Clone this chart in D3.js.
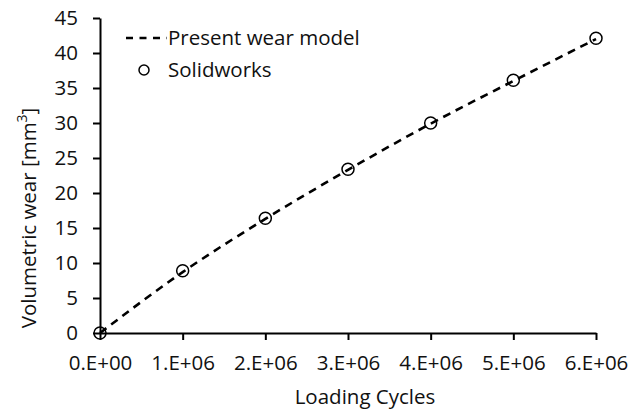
<!DOCTYPE html>
<html>
<head>
<meta charset="utf-8">
<script src="https://cdn.jsdelivr.net/npm/d3@7"></script>
<style>
  body { margin: 0; background: #fff; }
  text { font-family: "Open Sans", Lato, sans-serif; fill: #111; }
</style>
</head>
<body>
<div id="chart"></div>
<script>
// loading cycles and wear values
const cycles = [0, 1e6, 2e6, 3e6, 4e6, 5e6, 6e6];
const modelWear = [0, 8.7, 16.3, 23.3, 29.9, 36.0, 42.0];
const solidworksWear = [0, 8.9, 16.4, 23.4, 30.0, 36.1, 42.1];
const xTicks = [0, 1e6, 2e6, 3e6, 4e6, 5e6, 6e6];
const yTicks = [0, 5, 10, 15, 20, 25, 30, 35, 40, 45];
const legendLabels = ["Present wear model", "Solidworks"];

const W = 641, H = 414;
const margin = { top: 18, right: 45, bottom: 81, left: 100 };
const fontSize = 20.5;

const svg = d3.select('#chart').append('svg')
    .attr('width', W)
    .attr('height', H);

const xScale = d3.scaleLinear()
    .domain([0, 6e6])
    .range([margin.left, W - margin.right]);

const yScale = d3.scaleLinear()
    .domain([0, 45])
    .range([H - margin.bottom, margin.top]);

// excel style "1.E+06"
const sciFmt = d => {
    if (d === 0) return '0.E+00';
    const e = Math.floor(Math.log10(d));
    const m = Math.round(d / Math.pow(10, e));
    return m + '.E+' + String(e).padStart(2, '0');
};

const xAxis = svg.append('g')
    .attr('transform', `translate(0, ${yScale(0)})`)
    .call(d3.axisBottom(xScale).tickValues(xTicks).tickFormat(sciFmt).tickSize(7).tickSizeOuter(0).tickPadding(8));

const yAxis = svg.append('g')
    .attr('transform', `translate(${xScale(0)}, 0)`)
    .call(d3.axisLeft(yScale).tickValues(yTicks).tickSize(7).tickSizeOuter(0).tickPadding(15));

[xAxis, yAxis].forEach(a => {
    a.select('.domain').attr('stroke', '#000').attr('stroke-width', 2);
    a.selectAll('.tick line').attr('stroke', '#000').attr('stroke-width', 2);
    a.selectAll('.tick text')
        .style('font-family', '"Open Sans", Lato, sans-serif')
        .style('font-size', fontSize + 'px')
        .attr('fill', '#111');
});
xAxis.selectAll('.tick text').attr('dy', null).attr('y', 37);

// model curve
const lineFn = d3.line()
    .x((d, i) => xScale(cycles[i]))
    .y(d => yScale(d))
    .curve(d3.curveMonotoneX);

svg.append('path')
    .datum(modelWear)
    .attr('fill', 'none')
    .attr('stroke', '#000')
    .attr('stroke-width', 2.6)
    .attr('stroke-dasharray', '8,6')
    .attr('d', lineFn);

// solidworks points
svg.append('g')
    .selectAll('circle')
    .data(solidworksWear)
    .join('circle')
    .attr('cx', (d, i) => xScale(cycles[i]))
    .attr('cy', d => yScale(d))
    .attr('r', 6)
    .attr('fill', 'none')
    .attr('stroke', '#000')
    .attr('stroke-width', 1.5);

// axis titles
svg.append('text')
    .attr('x', 365)
    .attr('y', 404)
    .attr('text-anchor', 'middle')
    .style('font-size', fontSize + 'px')
    .text('Loading Cycles');

const yTitle = svg.append('text')
    .attr('transform', 'translate(36, 218) rotate(-90)')
    .attr('text-anchor', 'middle')
    .style('font-size', fontSize + 'px');
yTitle.append('tspan').text('Volumetric wear [mm');
yTitle.append('tspan').attr('baseline-shift', 'super').style('font-size', '14px').text('3');
yTitle.append('tspan').text(']');

// legend
const lg = svg.append('g');
lg.append('line')
    .attr('x1', 126).attr('x2', 167)
    .attr('y1', 38).attr('y2', 38)
    .attr('stroke', '#000')
    .attr('stroke-width', 2.6)
    .attr('stroke-dasharray', '7,6.5');
lg.append('text')
    .attr('x', 168).attr('y', 45)
    .style('font-size', fontSize + 'px')
    .text(legendLabels[0]);
lg.append('circle')
    .attr('cx', 144).attr('cy', 70)
    .attr('r', 5)
    .attr('fill', 'none')
    .attr('stroke', '#000')
    .attr('stroke-width', 1.5);
lg.append('text')
    .attr('x', 168).attr('y', 77)
    .style('font-size', fontSize + 'px')
    .text(legendLabels[1]);
</script>
</body>
</html>
